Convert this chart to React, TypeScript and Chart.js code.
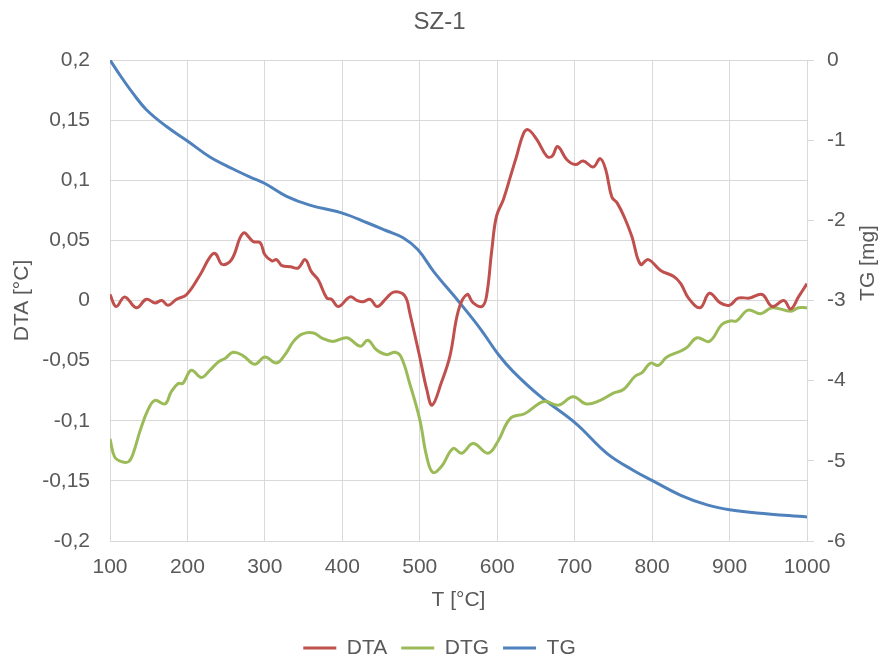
import React, { useEffect, useRef } from 'react';
import { Chart, registerables } from 'chart.js';

Chart.register(...registerables);

const TITLE = 'SZ-1';
const X_TITLE = 'T [°C]';
const Y_LEFT_TITLE = 'DTA [°C]';
const Y_RIGHT_TITLE = 'TG [mg]';

const DTA_T = [100,108,119,134,147,158,167,175,186,199,216,229,236,245,257,272,285,294,300,309,315,322,333,343,352,360,369,380,386,395,410,419,427,436,445,457,466,477,483,487,500,509,516,528,539,550,561,569,580,586,593,599,608,617,625,634,640,651,664,671,678,690,701,711,724,733,740,748,755,765,774,785,795,811,828,837,847,862,874,888,900,911,926,942,955,970,979,989,1000];
const DTA_V = [0.005,-0.005,0.003,-0.006,0.001,-0.002,0.0,-0.004,0.001,0.005,0.021,0.036,0.039,0.030,0.034,0.056,0.049,0.048,0.038,0.033,0.034,0.029,0.028,0.027,0.034,0.024,0.017,0.002,0.001,-0.005,0.003,0.0,-0.001,0.001,-0.005,0.002,0.007,0.006,0.001,-0.010,-0.047,-0.074,-0.087,-0.068,-0.046,-0.008,0.005,-0.002,-0.005,0.003,0.042,0.070,0.084,0.103,0.120,0.139,0.142,0.134,0.120,0.120,0.128,0.117,0.113,0.116,0.111,0.118,0.109,0.086,0.081,0.068,0.053,0.030,0.034,0.025,0.020,0.014,0.002,-0.006,0.006,-0.002,-0.004,0.002,0.002,0.005,-0.005,0.0,-0.007,0.003,0.014];

const DTG_T = [100,106,115,124,130,139,149,158,171,179,188,194,205,218,229,240,249,259,272,287,300,315,326,337,348,363,373,388,406,423,433,444,457,468,476,487,500,509,517,528,543,554,569,588,601,617,636,660,679,698,715,733,750,763,778,787,798,808,819,837,845,858,874,890,901,909,924,940,955,979,989,1000];
const DTG_V = [-0.115,-0.130,-0.134,-0.134,-0.127,-0.108,-0.091,-0.083,-0.086,-0.076,-0.069,-0.069,-0.058,-0.064,-0.058,-0.051,-0.048,-0.043,-0.046,-0.053,-0.047,-0.052,-0.045,-0.034,-0.028,-0.027,-0.031,-0.034,-0.031,-0.038,-0.033,-0.041,-0.045,-0.043,-0.047,-0.069,-0.099,-0.130,-0.143,-0.138,-0.123,-0.127,-0.119,-0.127,-0.117,-0.098,-0.094,-0.084,-0.087,-0.080,-0.086,-0.083,-0.077,-0.074,-0.063,-0.060,-0.052,-0.054,-0.047,-0.042,-0.039,-0.031,-0.034,-0.020,-0.017,-0.017,-0.008,-0.011,-0.006,-0.009,-0.006,-0.006];

const TG_T = [100,113,130,147,173,200,229,259,281,300,328,358,400,432,457,479,498,518,550,578,602,621,656,701,742,776,801,837,871,900,935,1000];
const TG_V = [0,-0.19,-0.42,-0.62,-0.83,-1.01,-1.21,-1.36,-1.46,-1.54,-1.70,-1.81,-1.91,-2.03,-2.13,-2.22,-2.37,-2.64,-3.01,-3.35,-3.68,-3.89,-4.20,-4.53,-4.91,-5.12,-5.25,-5.43,-5.55,-5.61,-5.65,-5.70];

const FONT = 'Liberation Sans, Arial, sans-serif';
const TEXT = '#595959';
const GRID = '#d9d9d9';

const pts = (xs: number[], ys: number[]) => xs.map((x, i) => ({ x, y: ys[i] }));

const fmtLeft = (v: number) => {
  const r = Math.round(v * 100) / 100;
  if (r === 0) return '0';
  return String(r).replace('.', ',');
};

const rightTitlePlugin = {
  id: 'rightTitle',
  afterDraw(chart: any) {
    const { ctx } = chart;
    const s = chart.scales.y1;
    ctx.save();
    ctx.translate(s.right - 11, 263);
    ctx.rotate(-Math.PI / 2);
    ctx.font = `21px ${FONT}`;
    ctx.fillStyle = TEXT;
    ctx.textAlign = 'center';
    ctx.textBaseline = 'middle';
    ctx.fillText(Y_RIGHT_TITLE, 0, 0);
    ctx.restore();
  },
};

export default function App() {
  const ref = useRef<HTMLCanvasElement>(null);
  useEffect(() => {
    const canvas = ref.current!;
    const chart = new Chart(canvas, {
      type: 'line',
      data: {
        datasets: [
          { label: 'DTA', data: pts(DTA_T, DTA_V), borderColor: '#C0504D', backgroundColor: '#C0504D', borderWidth: 3, pointRadius: 0, tension: 0.4, yAxisID: 'y' },
          { label: 'DTG', data: pts(DTG_T, DTG_V), borderColor: '#9BBB59', backgroundColor: '#9BBB59', borderWidth: 3, pointRadius: 0, tension: 0.4, yAxisID: 'y' },
          { label: 'TG', data: pts(TG_T, TG_V), borderColor: '#4F81BD', backgroundColor: '#4F81BD', borderWidth: 3, pointRadius: 0, tension: 0.4, yAxisID: 'y1' },
        ],
      },
      options: {
        responsive: false,
        animation: false,
        devicePixelRatio: 1,
        layout: { padding: 0 },
        plugins: {
          title: {
            display: true,
            text: TITLE,
            color: TEXT,
            font: { family: FONT, size: 24, weight: 'normal' },
            padding: { top: 7.6, bottom: 23.6 },
          },
          legend: {
            position: 'bottom',
            maxHeight: 38.5,
            labels: {
              usePointStyle: true,
              pointStyle: 'line',
              pointStyleWidth: 33,
              padding: 14,
              color: TEXT,
              font: { family: FONT, size: 21 },
            },
          },
          tooltip: { enabled: false },
        },
        scales: {
          x: {
            type: 'linear',
            min: 100,
            max: 1000,
            ticks: { stepSize: 100, color: TEXT, font: { family: FONT, size: 21 }, padding: 14, callback: (v: any) => String(Math.round(Number(v))) },
            grid: { color: GRID, drawTicks: false },
            border: { color: GRID },
            title: { display: true, text: X_TITLE, color: TEXT, font: { family: FONT, size: 21 }, padding: { top: 0, bottom: 10.8 } },
            afterFit: (s: any) => { s.height = 82.5; },
          },
          y: {
            position: 'left',
            min: -0.2,
            max: 0.2,
            ticks: { stepSize: 0.05, color: TEXT, font: { family: FONT, size: 21 }, padding: 20, callback: (v: any) => fmtLeft(Number(v)) },
            grid: { color: GRID, drawTicks: false },
            border: { color: GRID },
            title: { display: true, text: Y_LEFT_TITLE, color: TEXT, font: { family: FONT, size: 21 }, padding: { top: 10, bottom: 0 } },
            afterFit: (s: any) => { s.width = 110; },
          },
          y1: {
            position: 'right',
            min: -6,
            max: 0,
            ticks: { stepSize: 1, color: TEXT, font: { family: FONT, size: 21 }, padding: 13, callback: (v: any) => String(Math.round(Number(v))) },
            grid: { color: GRID, drawOnChartArea: false, drawTicks: true, tickLength: 7 },
            border: { color: GRID },
            afterFit: (s: any) => { s.width = 72; },
          },
        },
      },
      plugins: [rightTitlePlugin],
    } as any);
    return () => chart.destroy();
  }, []);
  return (
    <div style={{ position: 'absolute', left: 0, top: 0, width: 879, height: 662, background: '#fff' }}>
      <canvas ref={ref} width={879} height={662} style={{ display: 'block', width: 879, height: 662 }} />
    </div>
  );
}
